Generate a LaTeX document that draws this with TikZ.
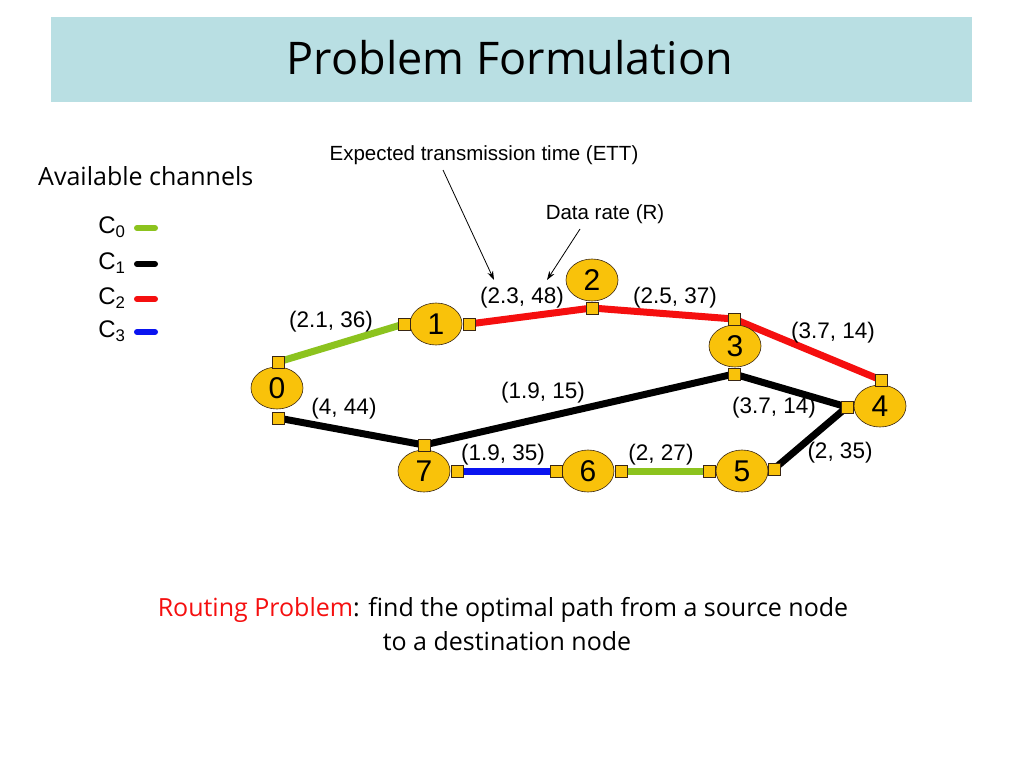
\documentclass[tikz,border=0pt]{standalone}
\usepackage{fontspec}
\setmainfont{Liberation Sans}
\newfontfamily\comic{Open Sans}
\usetikzlibrary{shapes.geometric,arrows.meta}
\definecolor{banner}{HTML}{B9DFE3}
\definecolor{nodey}{HTML}{F9C20A}
\definecolor{cgreen}{HTML}{8CC31E}
\definecolor{cred}{HTML}{F50F0F}
\definecolor{cblue}{HTML}{0A14F0}
\tikzset{
  net/.style={ellipse, draw=black!70!brown, line width=0.6pt, fill=nodey, minimum width=52pt, minimum height=42pt, inner sep=0pt, font=\fontsize{30}{30}\selectfont},
  port/.style={rectangle, draw=black!70!brown, line width=0.5pt, fill=nodey, minimum size=12pt, inner sep=0pt},
  link/.style={line width=7pt},
  lbl/.style={font=\fontsize{22.5}{24}\selectfont, inner sep=0pt},
  leg/.style={line width=6pt, line cap=round},
  legtxt/.style={font=\fontsize{24}{26}\selectfont, inner sep=0pt},
  ann/.style={font=\fontsize{20.5}{22}\selectfont, inner sep=0pt},
  arr/.style={line width=0.8pt, -{Stealth[length=9pt,width=6pt]}},
  comictxt/.style={font=\comic\fontsize{25}{28}\selectfont, inner sep=0pt}
}
\begin{document}
\begin{tikzpicture}[x=1pt,y=-1pt]
\useasboundingbox (0,0) rectangle (1024,768);
\fill[white] (0,0) rectangle (1024,768);
% banner
\fill[banner] (51,17) rectangle (972,102);
\node[font=\comic\fontsize{45}{50}\selectfont, inner sep=0pt] (title) at (510,58) {Problem Formulation};
% legend
\node[comictxt, anchor=west] (avail) at (38,176) {Available channels};
\node[legtxt] (c0) at (112,227) {C\textsubscript{0}};
\node[legtxt] (c1) at (112,263) {C\textsubscript{1}};
\node[legtxt] (c2) at (112,298) {C\textsubscript{2}};
\node[legtxt] (c3) at (112,331) {C\textsubscript{3}};
\coordinate (l0a) at (137,228); \coordinate (l0b) at (155,228);
\coordinate (l1a) at (137,264); \coordinate (l1b) at (155,264);
\coordinate (l2a) at (137,299); \coordinate (l2b) at (155,299);
\coordinate (l3a) at (137,332); \coordinate (l3b) at (155,332);
\draw[leg, cgreen] (l0a) -- (l0b);
\draw[leg, black] (l1a) -- (l1b);
\draw[leg, cred] (l2a) -- (l2b);
\draw[leg, cblue] (l3a) -- (l3b);
% port coordinates
\coordinate (p0t) at (278,362);
\coordinate (p0b) at (278,418);
\coordinate (p1l) at (404,324);
\coordinate (p1r) at (469,324);
\coordinate (p2b) at (592,308);
\coordinate (p3t) at (734,319);
\coordinate (p3b) at (734,374);
\coordinate (p4t) at (881,380);
\coordinate (p4l) at (847,407);
\coordinate (p5l) at (709,471);
\coordinate (p5r) at (774,469);
\coordinate (p6l) at (556,471);
\coordinate (p6r) at (621,471);
\coordinate (p7t) at (424,445);
\coordinate (p7r) at (457,471);
% links
\draw[link, cgreen] (p0t) -- (p1l);
\draw[link, cred] (p1r) -- (p2b) -- (p3t) -- (p4t);
\draw[link, black] (p0b) -- (p7t) -- (p3b) -- (p4l) -- (p5r);
\draw[link, cblue] (p7r) -- (p6l);
\draw[link, cgreen] (p6r) -- (p5l);
% nodes
\node[net] (n0) at (277,388) {0};
\node[net] (n1) at (436,324) {1};
\node[net] (n2) at (592,280) {2};
\node[net] (n3) at (735,346) {3};
\node[net] (n4) at (880,406) {4};
\node[net] (n5) at (742,471) {5};
\node[net] (n6) at (588,471) {6};
\node[net] (n7) at (424,471) {7};
% ports
\foreach \p in {p0t,p0b,p1l,p1r,p2b,p3t,p3b,p4t,p4l,p5l,p5r,p6l,p6r,p7t,p7r}
  \node[port] at (\p) {};
% labels
\node[lbl] (e01) at (331,322) {(2.1, 36)};
\node[lbl] (e12) at (522,298) {(2.3, 48)};
\node[lbl] (e23) at (675,298) {(2.5, 37)};
\node[lbl] (e34r) at (833,333) {(3.7, 14)};
\node[lbl] (e73) at (543,393) {(1.9, 15)};
\node[lbl] (e07) at (344,409) {(4, 44)};
\node[lbl] (e34b) at (774,408) {(3.7, 14)};
\node[lbl] (e76) at (503,455) {(1.9, 35)};
\node[lbl] (e65) at (661,455) {(2, 27)};
\node[lbl] (e45) at (840,453) {(2, 35)};
% annotations
\node[ann] (ett) at (484,155) {Expected transmission time (ETT)};
\node[ann] (rate) at (605,214) {Data rate (R)};
\coordinate (ettstart) at (443,170);
\coordinate (ettend) at (494,280);
\coordinate (ratestart) at (580,229);
\coordinate (rateend) at (547,280);
\draw[arr] (ettstart) -- (ettend);
\draw[arr] (ratestart) -- (rateend);
% bottom text
\node[comictxt] (route1) at (503,610) {\textcolor{cred}{Routing Problem}: find the optimal path from a source node};
\node[comictxt] (route2) at (507,641) {to a destination node};
\end{tikzpicture}
\end{document}
